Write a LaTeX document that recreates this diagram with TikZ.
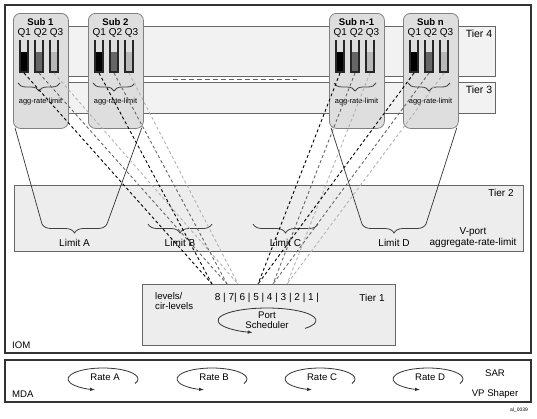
\documentclass[tikz,border=0pt]{standalone}
\usepackage{fontspec}
\setmainfont{Liberation Sans}
\usetikzlibrary{%
  calc,
  positioning,
  decorations.pathreplacing,
  arrows.meta,
}

\begin{document}
\begin{tikzpicture}[
    x=1pt, y=-1pt,
    font=\fontsize{9.6}{10.5}\selectfont,
    frame/.style={draw=black!80, line width=1.2pt},
    tierbox/.style={draw=black!60, fill=black!7, line width=0.8pt},
    subbox/.style={
      rectangle, rounded corners=7pt,
      draw=black!50, fill=black!13, line width=0.8pt,
      minimum width=55pt, minimum height=115pt,
      anchor=north west, inner sep=0pt,
    },
    txt/.style={inner sep=0pt},
    tube/.style={draw=black!85, line width=1.3pt},
    brc/.style={
      decorate, decoration={brace, mirror, amplitude=#1},
      draw=black!75, line width=0.8pt,
    },
    qdash/.style={dash pattern=on 3pt off 2.5pt, line width=0.9pt},
    link/.style={draw=black!80, line width=0.7pt},
    sched/.style={draw=black!80, line width=0.8pt, -{Latex[length=5pt,width=3.5pt]}},
  ]
  \useasboundingbox (0,0) rectangle (537,418);

  % IOM and MDA frames
  \draw[frame] (5,5) rectangle (531,353);
  \draw[frame] (5,360) rectangle (531,402);
  \node[txt, anchor=west] (iom) at (12,345) {IOM};
  \node[txt, anchor=west] (mda) at (12,394) {MDA};

  % tier 4 / tier 3 bands
  \draw[tierbox, fill=black!5] (30,26) rectangle (495,76);
  \draw[tierbox, fill=black!5] (30,82) rectangle (495,113);
  \draw[black!60, line width=1pt, dash pattern=on 5pt off 3pt] (173,79) -- (297,79);
  \node[txt, font=\fontsize{10.5}{12}\selectfont] (tier4) at (479,34) {Tier 4};
  \node[txt, font=\fontsize{10.5}{12}\selectfont] (tier3) at (479,90) {Tier 3};

  % subscribers
  \foreach \i/\l/\name in {1/13/Sub 1, 2/88/Sub 2, 3/329/Sub n-1, 4/403/Sub n} {
    \node[subbox] (sub\i) at (\l,13) {};
    \node[txt, font=\bfseries\fontsize{9.6}{11}\selectfont] (title\i) at (\l+27.5,22) {\name};
    \node[txt, font=\fontsize{10}{12}\selectfont] (qlab\i) at (\l+27.5,33) {Q1 Q2 Q3};
    \foreach \j/\dx/\shade in {1/11/black, 2/26/black!60, 3/41/black!28} {
      \fill[\shade] (\l+\dx-4,52) rectangle (\l+\dx+4,72);
      \draw[tube] (\l+\dx-4,40) -- (\l+\dx-4,72) -- (\l+\dx+4,72) -- (\l+\dx+4,40);
      \coordinate (q\i-\j) at (\l+\dx,73);
    }
    \draw[brc=8pt] (\l+5,83) -- (\l+47,83);
    \node[txt, font=\fontsize{7.4}{9}\selectfont] (agg\i) at (\l+27.5,102) {agg-rate-limit};
  }

  % tier 2
  \draw[tierbox] (14,185) rectangle (523,251);
  \node[txt, font=\fontsize{10}{12}\selectfont] (tier2) at (501,193) {Tier 2};
  \node[txt, align=center, font=\fontsize{10}{11}\selectfont] (vport) at (473,238)
    {V-port\\aggregate-rate-limit};
  \foreach \n/\a/\b in {A/42/107, B/148/212, C/253/318, D/362/426} {
    \coordinate (lim\n-l) at (\a,224);
    \coordinate (lim\n-r) at (\b,224);
    \draw[brc=9pt] (lim\n-l) -- (lim\n-r);
    \node[txt, font=\fontsize{10}{12}\selectfont] (lim\n) at ({(\a+\b)/2},243) {Limit \n};
  }

  % tier 1
  \draw[tierbox] (142,284) rectangle (395,345);
  \node[txt, font=\fontsize{10}{12}\selectfont] (tier1) at (372,298) {Tier 1};
  \node[txt, align=left, anchor=north west] (lvl) at (155,292) {levels/\\cir-levels};
  \node[txt, font=\fontsize{10}{12}\selectfont] (prio) at (267,298)
    {8 | 7| 6 | 5 | 4 | 3 | 2 | 1 |};
  \foreach \p/\px in {8/212, 7/227, 6/238, 5/258, 4/273, 3/287} {
    \coordinate (lv\p) at (\px,284);
  }
  \node[txt, align=center] (port) at (267,320) {Port\\Scheduler};
  \draw[sched] (267,320.5) ++(39:49 and 12.5)
    arc[start angle=39, end angle=-253, x radius=49, y radius=12.5];

  % MDA shapers
  \foreach \r/\cx in {A/103, B/212, C/320, D/428} {
    \node[txt] (rate\r) at (\cx+2,377) {Rate \r};
    \draw[sched] (\cx,379) ++(24:35 and 11)
      arc[start angle=24, end angle=-257, x radius=35, y radius=11];
  }
  \node[txt, align=center] (sar) at (495,384) {SAR\\[9pt]VP Shaper};
  \node[txt, font=\fontsize{5}{6}\selectfont] (fig) at (519,410) {al\_0039};

  % sub to limit
  \draw[link] ($(sub1.south west)+(2,-1)$) -- (limA-l);
  \draw[link] ($(sub2.south east)+(-2,-1)$) -- (limA-r);
  \draw[link] ($(sub3.south west)+(2,-1)$) -- (limD-l);
  \draw[link] ($(sub4.south east)+(-2,-1)$) -- (limD-r);

  % queues to scheduler levels
  \foreach \i in {1,2} {
    \draw[qdash, black] (q\i-1) -- (lv8);
    \draw[qdash, black!60] (q\i-2) -- (lv7);
    \draw[qdash, black!30] (q\i-3) -- (lv6);
  }
  \foreach \i in {3,4} {
    \draw[qdash, black] (q\i-1) -- (lv5);
    \draw[qdash, black!60] (q\i-2) -- (lv4);
    \draw[qdash, black!30] (q\i-3) -- (lv3);
  }
\end{tikzpicture}
\end{document}
